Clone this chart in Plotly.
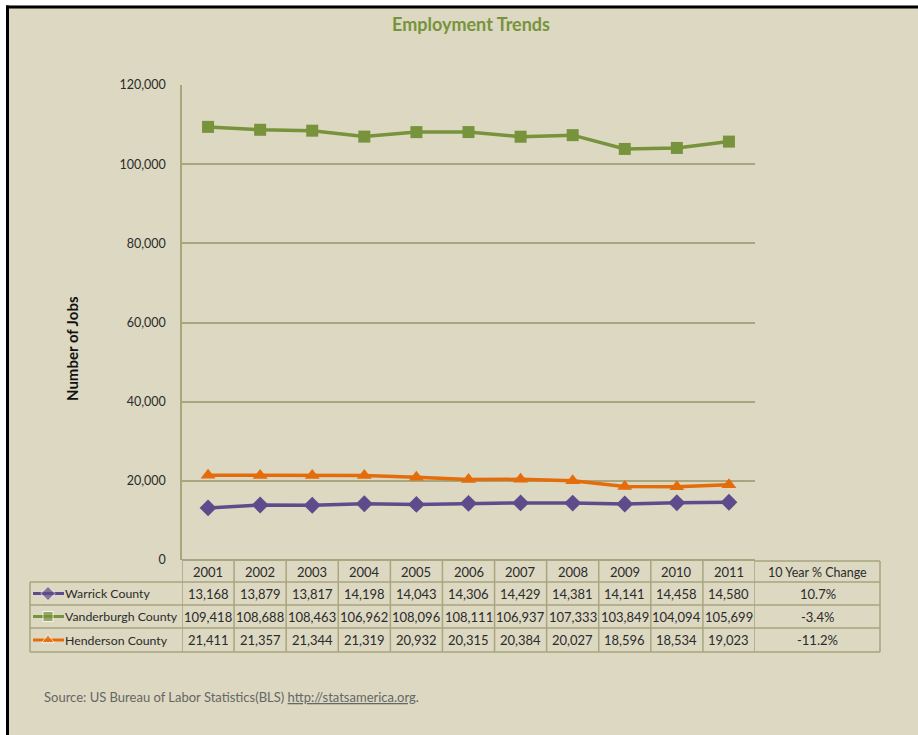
import plotly.graph_objects as go

W, H = 918, 735
years = ["2001", "2002", "2003", "2004", "2005", "2006", "2007", "2008", "2009", "2010", "2011"]
series_names = ["Warrick County", "Vanderburgh County", "Henderson County"]
warrick = [13168, 13879, 13817, 14198, 14043, 14306, 14429, 14381, 14141, 14458, 14580]
vanderburgh = [109418, 108688, 108463, 106962, 108096, 108111, 106937, 107333, 103849, 104094, 105699]
henderson = [21411, 21357, 21344, 21319, 20932, 20315, 20384, 20027, 18596, 18534, 19023]
pct_change = ["10.7%", "-3.4%", "-11.2%"]
y_ticks = [0, 20000, 40000, 60000, 80000, 100000, 120000]

colors = ["#5F4B8B", "#77933C", "#E46C0A"]
symbols = ["diamond", "square", "triangle-up"]
msizes = [13, 12, 13]
values = [warrick, vanderburgh, henderson]

BG = "#DCD8C1"
GRID = "#A9A57E"
TXT = "#2b2b2b"
FONT = "Lato"

def px(x):
    return x / W

def py(y):
    return 1 - y / H

# plot area in screen pixels
L, R, T, B = 182, 755, 85, 560

fig = go.Figure()
for name, vals, c, s, ms in zip(series_names, values, colors, symbols, msizes):
    fig.add_trace(go.Scatter(
        x=list(range(len(years))), y=vals, name=name, mode="lines+markers",
        line=dict(color=c, width=3.5),
        marker=dict(symbol=s, size=ms, color=c),
        showlegend=False, xaxis="x", yaxis="y"))

# legend keys in table (pixel-space axis covering the whole figure)
row_centers = [593.5, 616.5, 640]
for name, c, s, ms, yc in zip(series_names, colors, symbols, msizes, row_centers):
    fig.add_trace(go.Scatter(
        x=[33, 48, 64], y=[yc] * 3, mode="lines+markers",
        line=dict(color=c, width=3),
        marker=dict(symbol=s, size=[0, ms - 2, 0], color=c),
        showlegend=False, hoverinfo="skip", xaxis="x2", yaxis="y2"))

shapes = []
# white outer margin and black border (top and left)
shapes.append(dict(type="rect", xref="paper", yref="paper", x0=0, x1=1, y0=py(5.5), y1=1,
                   fillcolor="white", line_width=0))
shapes.append(dict(type="rect", xref="paper", yref="paper", x0=0, x1=px(6), y0=0, y1=1,
                   fillcolor="white", line_width=0))
shapes.append(dict(type="line", xref="paper", yref="paper", x0=px(6), x1=1, y0=py(7), y1=py(7),
                   line=dict(color="black", width=3)))
shapes.append(dict(type="line", xref="paper", yref="paper", x0=px(7.5), x1=px(7.5), y0=py(5.5), y1=0,
                   line=dict(color="black", width=3)))

# table grid
tl = dict(color=GRID, width=1.5)
for yy in [582, 605, 628, 652]:
    shapes.append(dict(type="line", xref="paper", yref="paper", x0=px(30), x1=px(880),
                       y0=py(yy), y1=py(yy), line=tl))
shapes.append(dict(type="line", xref="paper", yref="paper", x0=px(755), x1=px(880),
                   y0=py(561), y1=py(561), line=tl))
shapes.append(dict(type="line", xref="paper", yref="paper", x0=px(30), x1=px(30),
                   y0=py(582), y1=py(652), line=tl))
shapes.append(dict(type="line", xref="paper", yref="paper", x0=px(880), x1=px(880),
                   y0=py(561), y1=py(652), line=tl))
for i in range(len(years) + 1):
    shapes.append(dict(type="line", xref="x", yref="paper", x0=i - 0.5, x1=i - 0.5,
                       y0=py(560), y1=py(652), line=tl))

ann = []
def A(**kw):
    kw.setdefault("showarrow", False)
    kw.setdefault("xanchor", "center")
    kw.setdefault("yanchor", "middle")
    ann.append(kw)

A(text="<b>Employment Trends</b>", xref="paper", yref="paper", x=px(471), y=py(24),
  font=dict(family=FONT, size=18, color="#77933C"))
A(text="<b>Number of Jobs</b>", xref="paper", yref="paper", x=px(72), y=py(349),
  textangle=-90, font=dict(family=FONT, size=15, color="#111"))
tf = dict(family=FONT, size=13, color=TXT)
for i, yr in enumerate(years):
    A(text=yr, xref="x", yref="paper", x=i, y=py(572), font=tf)
    for vals, yc in zip(values, row_centers):
        A(text=f"{vals[i]:,}", xref="x", yref="paper", x=i, y=py(yc), font=tf)
A(text="10 Year % Change", xref="paper", yref="paper", x=px(817.5), y=py(572),
  font=dict(family=FONT, size=12.5, color=TXT))
for name, p, yc in zip(series_names, pct_change, row_centers):
    A(text=p, xref="paper", yref="paper", x=px(817.5), y=py(yc), font=tf)
    A(text=name, xref="paper", yref="paper", x=px(63), y=py(yc), xanchor="left",
      font=dict(family=FONT, size=12.3, color=TXT))
A(text="Source: US Bureau of Labor Statistics(BLS) <u>http://statsamerica.org</u>.",
  xref="paper", yref="paper", x=px(42), y=py(697), xanchor="left",
  font=dict(family=FONT, size=13, color="#666"))

fig.update_layout(
    width=W, height=H, margin=dict(l=0, r=0, t=0, b=0, pad=0, autoexpand=False),
    paper_bgcolor=BG, plot_bgcolor="rgba(0,0,0,0)",
    shapes=shapes, annotations=ann,
    xaxis=dict(domain=[px(L), px(R)], range=[-0.5, 10.5], showgrid=False, showticklabels=False,
               zeroline=False, showline=False, automargin=False),
    yaxis=dict(domain=[py(B), py(T)], range=[0, 120000], tickvals=y_ticks,
               tickformat=",", showgrid=True, gridcolor=GRID, gridwidth=1.5,
               zeroline=True, zerolinecolor=GRID, zerolinewidth=1.5,
               showline=True, linecolor=GRID, linewidth=1.5, automargin=False,
               ticklabelstandoff=12, tickfont=dict(family=FONT, size=12.5, color=TXT)),
    xaxis2=dict(domain=[0, 1], range=[0, W], visible=False, anchor="y2", automargin=False),
    yaxis2=dict(domain=[0, 1], range=[H, 0], visible=False, anchor="x2", automargin=False),
    font=dict(family=FONT),
)
fig.write_html(
    "out.html",
    config={"displayModeBar": False},
    post_script="document.body.style.margin='0';document.body.style.overflow='hidden';",
)
